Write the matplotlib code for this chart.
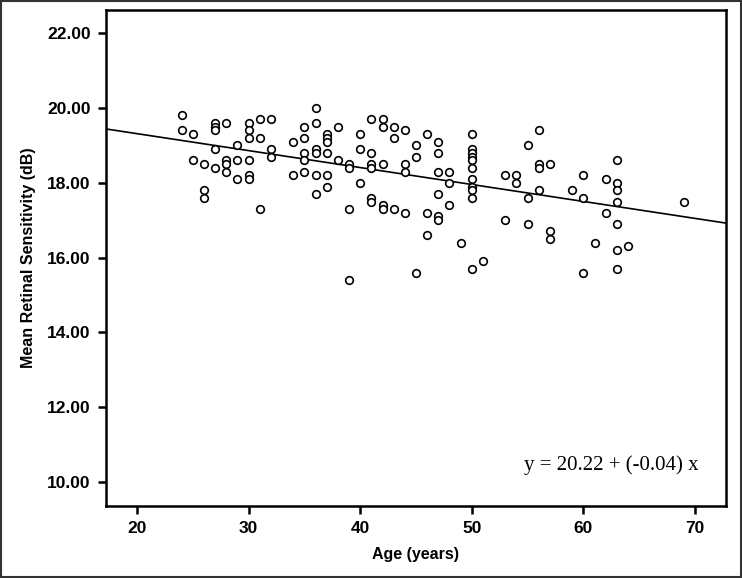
import matplotlib.pyplot as plt
from matplotlib.patches import Rectangle

# Ages (years) and mean retinal sensitivity (dB)
age = [24, 24, 25, 25, 26, 26, 26,
       27, 27, 27, 27, 27, 28, 28, 28, 28, 29, 29, 29,
       30, 30, 30, 30, 30, 30, 31, 31, 31, 32, 32, 32, 34, 34,
       35, 35, 35, 35, 35, 36, 36, 36, 36, 36, 36,
       37, 37, 37, 37, 37, 37, 38, 38, 39, 39, 39, 39,
       40, 40, 40, 41, 41, 41, 41, 41, 41, 42, 42, 42, 42, 42,
       43, 43, 43, 44, 44, 44, 44, 45, 45, 45, 46, 46, 46,
       47, 47, 47, 47, 47, 47, 48, 48, 48, 49,
       50, 50, 50, 50, 50, 50, 50, 50, 50, 50, 50, 51,
       53, 53, 54, 54, 55, 55, 55, 56, 56, 56, 56, 57, 57, 57,
       59, 60, 60, 60, 61, 62, 62,
       63, 63, 63, 63, 63, 63, 63, 64, 69]
sensitivity = [19.8, 19.4, 19.3, 18.6, 18.5, 17.8, 17.6,
               19.6, 19.5, 19.4, 18.9, 18.4, 19.6, 18.6, 18.5, 18.3, 19.0, 18.6, 18.1,
               19.6, 19.4, 19.2, 18.6, 18.2, 18.1, 19.7, 19.2, 17.3, 19.7, 18.9, 18.7, 19.1, 18.2,
               19.5, 19.2, 18.8, 18.6, 18.3, 20.0, 19.6, 18.9, 18.8, 18.2, 17.7,
               19.3, 19.2, 19.1, 18.8, 18.2, 17.9, 19.5, 18.6, 18.5, 18.4, 17.3, 15.4,
               19.3, 18.9, 18.0, 19.7, 18.8, 18.5, 18.4, 17.6, 17.5, 19.7, 19.5, 18.5, 17.4, 17.3,
               19.5, 19.2, 17.3, 19.4, 18.5, 18.3, 17.2, 19.0, 18.7, 15.6, 19.3, 17.2, 16.6,
               19.1, 18.8, 18.3, 17.7, 17.1, 17.0, 18.3, 18.0, 17.4, 16.4,
               19.3, 18.9, 18.8, 18.7, 18.6, 18.4, 18.1, 17.9, 17.8, 17.6, 15.7, 15.9,
               18.2, 17.0, 18.2, 18.0, 19.0, 17.6, 16.9, 19.4, 18.5, 18.4, 17.8, 18.5, 16.7, 16.5,
               17.8, 18.2, 17.6, 15.6, 16.4, 18.1, 17.2,
               18.6, 18.0, 17.8, 17.5, 16.9, 16.2, 15.7, 16.3, 17.5]

# Regression line
intercept = 20.22
slope = -0.0453

x_ticks = [20, 30, 40, 50, 60, 70]
y_ticks = [10, 12, 14, 16, 18, 20, 22]

fig = plt.figure(figsize=(7.42, 5.78), dpi=100)
ax = fig.add_axes([106 / 742, 72 / 578, 620 / 742, 496 / 578])

ax.scatter(age, sensitivity, s=30, facecolors="white", edgecolors="black",
           linewidths=1.2, zorder=3)

x0, x1 = 17.22, 72.78
ax.plot([x0, x1], [intercept + slope * x0, intercept + slope * x1],
        color="black", lw=1.2, zorder=2)

ax.set_xlim(x0, x1)
ax.set_ylim(9.36, 22.62)
ax.set_xticks(x_ticks)
ax.set_yticks(y_ticks)
ax.set_yticklabels([f"{v:.2f}" for v in y_ticks])

for lab in ax.get_xticklabels() + ax.get_yticklabels():
    lab.set_fontfamily("Liberation Sans")
    lab.set_fontweight("bold")
    lab.set_fontsize(12.5)
ax.tick_params(direction="out", length=6, width=1.8, pad=5)

for s in ax.spines.values():
    s.set_linewidth(1.8)

ax.set_xlabel("Age (years)", fontfamily="Liberation Sans", fontweight="bold",
              fontsize=11.5, labelpad=8)
ax.set_ylabel("Mean Retinal Sensitivity (dB)", fontfamily="Liberation Sans",
              fontweight="bold", fontsize=11.5, labelpad=8)

ax.text(0.815, 0.083, "y = 20.22 + (-0.04) x", transform=ax.transAxes,
        ha="center", va="center", fontfamily="Liberation Serif", fontsize=15)

# thin frame around the whole picture
fig.patches.append(Rectangle((0.002, 0.002), 0.996, 0.996, transform=fig.transFigure,
                             fill=False, edgecolor="#333333", lw=1.5))

fig.savefig("out.png", dpi=100)
